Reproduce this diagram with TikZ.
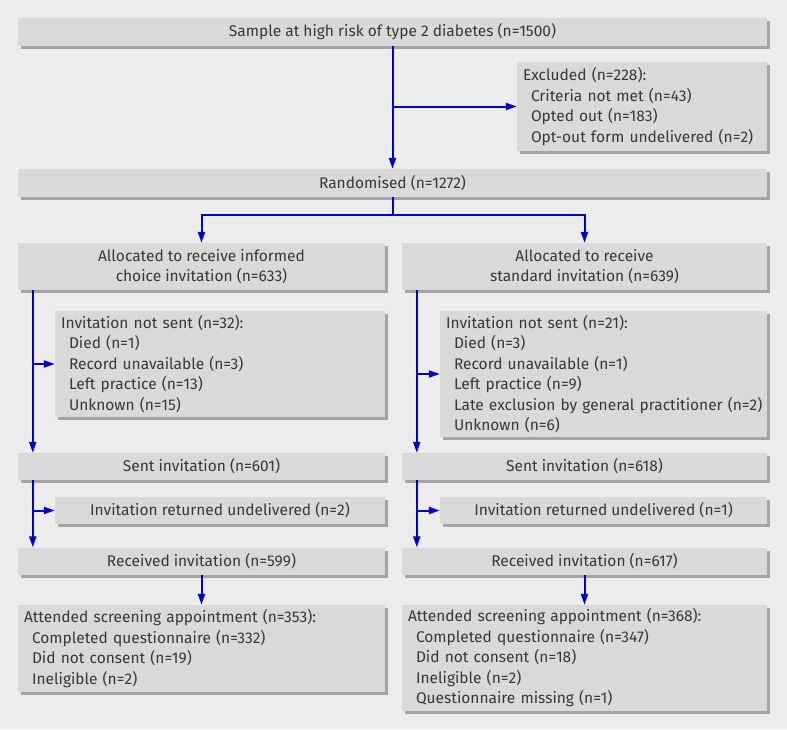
\documentclass[tikz,border=0pt]{standalone}
\usepackage{fontspec}
\setmainfont{Fira Sans}
\usetikzlibrary{arrows.meta,shadows}
\definecolor{bgcol}{HTML}{ECECEC}
\definecolor{boxcol}{HTML}{D9D9D9}
\definecolor{shadecol}{HTML}{A4A4A4}
\definecolor{txtcol}{HTML}{383838}
\definecolor{arrcol}{RGB}{0,0,200}
\newcommand{\ind}{\hspace*{8pt}}

\begin{document}
\begin{tikzpicture}[
  x=1pt, y=-1pt,
  flowbox/.style={fill=boxcol, inner sep=0pt, text=txtcol, align=center,
    font=\fontsize{15.5}{20.5}\selectfont,
    drop shadow={shadow xshift=3pt, shadow yshift=-3pt, fill=shadecol, opacity=1}},
  listbox/.style={flowbox, align=left, inner xsep=6pt, text width=#1},
  flowarrow/.style={->, >={Stealth[length=11pt,width=7pt,inset=0pt]}, line width=2pt, arrcol}
]
% Background and page size
\fill[bgcol] (0,0) rectangle (787,729);
\useasboundingbox (0,0) rectangle (787,729);

% Top of the chart
\node[flowbox, minimum width=749pt, minimum height=28pt] (sample) at (392.5,32)
  {Sample at high risk of type 2 diabetes (n=1500)};
\node[listbox=238pt, minimum height=89pt] (excl) at (642,106.5)
  {Excluded (n=228):\\ \ind Criteria not met (n=43)\\ \ind Opted out (n=183)\\ \ind \mbox{Opt-out form undelivered (n=2)}};
\node[flowbox, minimum width=749pt, minimum height=28pt] (rand) at (392.5,183)
  {Randomised (n=1272)};

% Informed choice arm
\node[flowbox, minimum width=367pt, minimum height=47pt] (allocL) at (201.5,266.5)
  {Allocated to receive informed\\choice invitation (n=633)};
\node[listbox=318pt, minimum height=106pt] (notsentL) at (220,364)
  {Invitation not sent (n=32):\\ \ind Died (n=1)\\ \ind Record unavailable (n=3)\\ \ind Left practice (n=13)\\ \ind Unknown (n=15)};
\node[flowbox, minimum width=367pt, minimum height=27pt] (sentL) at (201.5,466.5)
  {Sent invitation (n=601)};
\node[flowbox, minimum width=330pt, minimum height=27pt] (retL) at (220,510.5)
  {Invitation returned undelivered (n=2)};
\node[flowbox, minimum width=367pt, minimum height=27pt] (recL) at (201.5,561)
  {Received invitation (n=599)};
\node[listbox=355pt, minimum height=87pt] (attL) at (201.5,648.5)
  {Attended screening appointment (n=353):\\ \ind Completed questionnaire (n=332)\\ \ind Did not consent (n=19)\\ \ind Ineligible (n=2)};

% Standard arm
\node[flowbox, minimum width=365pt, minimum height=47pt] (allocR) at (584.5,266.5)
  {Allocated to receive\\standard invitation (n=639)};
\node[listbox=315pt, minimum height=126pt] (notsentR) at (603.5,374)
  {Invitation not sent (n=21):\\ \ind Died (n=3)\\ \ind Record unavailable (n=1)\\ \ind Left practice (n=9)\\ \ind \mbox{Late exclusion by general practitioner (n=2)}\\ \ind Unknown (n=6)};
\node[flowbox, minimum width=365pt, minimum height=27pt] (sentR) at (584.5,466.5)
  {Sent invitation (n=618)};
\node[flowbox, minimum width=327pt, minimum height=27pt] (retR) at (603.5,510.5)
  {Invitation returned undelivered (n=1)};
\node[flowbox, minimum width=365pt, minimum height=27pt] (recR) at (584.5,561)
  {Received invitation (n=617)};
\node[listbox=353pt, minimum height=106pt] (attR) at (584.5,658)
  {Attended screening appointment (n=368):\\ \ind Completed questionnaire (n=347)\\ \ind Did not consent (n=18)\\ \ind Ineligible (n=2)\\ \ind Questionnaire missing (n=1)};

% Arrows at the top
\draw[flowarrow] (sample) -- (rand);
\draw[flowarrow] (sample.south |- excl.west) -- (excl.west);
\coordinate (split) at (392.5,215);
\draw[line width=2pt, arrcol] (rand) -- (split);
\draw[flowarrow] (split) -| (allocL);
\draw[flowarrow] (split) -| (allocR);

% Arrows down each arm
\foreach \side in {L,R} {
  \draw[flowarrow] ([xshift=15pt]alloc\side.south west) -- ([xshift=15pt]sent\side.north west);
  \draw[flowarrow] ([xshift=15pt]alloc\side.south west |- notsent\side.west) -- (notsent\side.west);
  \draw[flowarrow] ([xshift=15pt]sent\side.south west) -- ([xshift=15pt]rec\side.north west);
  \draw[flowarrow] ([xshift=15pt]sent\side.south west |- ret\side.west) -- (ret\side.west);
  \draw[flowarrow] (rec\side) -- (att\side);
}
\end{tikzpicture}
\end{document}
